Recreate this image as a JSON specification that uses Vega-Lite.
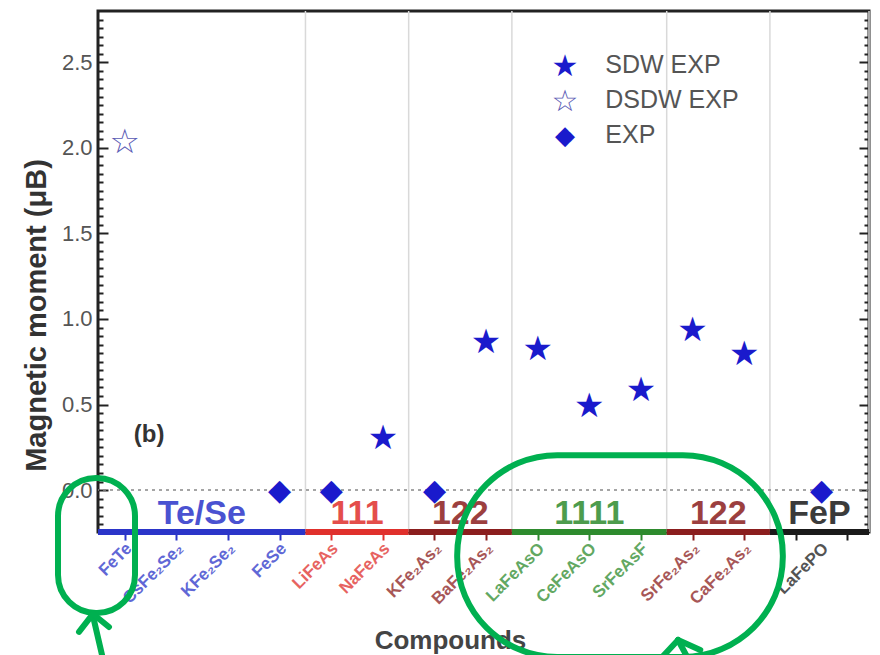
{
  "$schema": "https://vega.github.io/schema/vega-lite/v6.json",
  "width": 771,
  "height": 521,
  "autosize": {"type": "none"},
  "padding": {"left": 98, "top": 11, "right": 11, "bottom": 123},
  "background": "white",
  "config": {
    "font": "Liberation Sans",
    "view": {"stroke": "#222", "strokeWidth": 3},
    "axis": {"grid": false, "domain": false}
  },
  "datasets": {
    "compounds": [
      {"compound": "FeTe", "index": 1, "family": "Te/Se"},
      {"compound": "CsFe₂Se₂", "index": 2, "family": "Te/Se"},
      {"compound": "KFe₂Se₂", "index": 3, "family": "Te/Se"},
      {"compound": "FeSe", "index": 4, "family": "Te/Se"},
      {"compound": "LiFeAs", "index": 5, "family": "111"},
      {"compound": "NaFeAs", "index": 6, "family": "111"},
      {"compound": "KFe₂As₂", "index": 7, "family": "122"},
      {"compound": "BaFe₂As₂", "index": 8, "family": "122"},
      {"compound": "LaFeAsO", "index": 9, "family": "1111"},
      {"compound": "CeFeAsO", "index": 10, "family": "1111"},
      {"compound": "SrFeAsF", "index": 11, "family": "1111"},
      {"compound": "SrFe₂As₂", "index": 12, "family": "122"},
      {"compound": "CaFe₂As₂", "index": 13, "family": "122"},
      {"compound": "LaFePO", "index": 14.5, "family": "FeP"}
    ],
    "moments": [
      {"compound": "FeTe", "index": 1, "moment": 2.04, "series": "DSDW EXP"},
      {"compound": "FeSe", "index": 4, "moment": 0, "series": "EXP"},
      {"compound": "LiFeAs", "index": 5, "moment": 0, "series": "EXP"},
      {"compound": "NaFeAs", "index": 6, "moment": 0.31, "series": "SDW EXP"},
      {"compound": "KFe₂As₂", "index": 7, "moment": 0, "series": "EXP"},
      {"compound": "BaFe₂As₂", "index": 8, "moment": 0.87, "series": "SDW EXP"},
      {"compound": "LaFeAsO", "index": 9, "moment": 0.83, "series": "SDW EXP"},
      {"compound": "CeFeAsO", "index": 10, "moment": 0.5, "series": "SDW EXP"},
      {"compound": "SrFeAsF", "index": 11, "moment": 0.59, "series": "SDW EXP"},
      {"compound": "SrFe₂As₂", "index": 12, "moment": 0.94, "series": "SDW EXP"},
      {"compound": "CaFe₂As₂", "index": 13, "moment": 0.8, "series": "SDW EXP"},
      {"compound": "LaFePO", "index": 14.5, "moment": 0, "series": "EXP"}
    ],
    "groups": [
      {"label": "Te/Se", "family": "Te/Se", "start": 0.48, "end": 4.5, "mid": 2.49},
      {"label": "111", "family": "111", "start": 4.5, "end": 6.5, "mid": 5.5},
      {"label": "122", "family": "122", "start": 6.5, "end": 8.5, "mid": 7.5},
      {"label": "1111", "family": "1111", "start": 8.5, "end": 11.5, "mid": 10},
      {"label": "122", "family": "122", "start": 11.5, "end": 13.5, "mid": 12.5},
      {"label": "FeP", "family": "FeP", "start": 13.5, "end": 15.42, "mid": 14.46}
    ]
  },
  "resolve": {"axis": {"x": "independent", "y": "independent"}},
  "layer": [
    {
      "data": {"name": "groups"},
      "mark": {"type": "rule", "color": "#d9d9d9", "strokeWidth": 1.5},
      "encoding": {
        "x": {
          "field": "end", "type": "quantitative",
          "scale": {"domain": [0.48, 15.42], "nice": false, "zero": false},
          "axis": {
            "orient": "bottom",
            "values": [1, 2, 3, 4, 5, 6, 7, 8, 9, 10, 11, 12, 13, 14, 15],
            "labels": false, "ticks": true, "tickSize": 8, "tickWidth": 2,
            "tickColor": {"condition": [
              {"test": "datum.value < 4.5", "value": "#2b35c9"},
              {"test": "datum.value < 6.5", "value": "#e0302c"},
              {"test": "datum.value < 8.5", "value": "#8b1e1e"},
              {"test": "datum.value < 11.5", "value": "#2e8b2e"},
              {"test": "datum.value < 13.5", "value": "#8b1e1e"}
            ], "value": "#1a1a1a"},
            "title": "Compounds", "titleFontSize": 26, "titleFontWeight": "bold",
            "titleColor": "#444", "titleX": 352, "titleY": 108, "titleBaseline": "middle"
          }
        }
      }
    },
    {
      "data": {"values": [{}]},
      "mark": {"type": "rule", "color": "#888", "strokeDash": [3, 4], "strokeWidth": 1.5},
      "encoding": {
        "y": {
          "datum": 0, "type": "quantitative",
          "scale": {"domain": [-0.245, 2.8], "nice": false, "zero": false},
          "axis": {
            "orient": "left", "values": [0, 0.5, 1, 1.5, 2, 2.5], "format": ".1f",
            "ticks": false, "labels": true, "labelFontSize": 22, "labelColor": "#555", "labelPadding": 6,
            "title": "Magnetic moment (μB)", "titleFontSize": 29, "titleFontWeight": "bold", "titleColor": "#333",
            "titleX": -62, "titleY": 304, "titleBaseline": "middle"
          }
        }
      }
    },
    {
      "data": {"name": "groups"},
      "mark": {"type": "rule", "strokeWidth": 6},
      "encoding": {
        "x": {"field": "start", "type": "quantitative", "axis": null},
        "x2": {"field": "end"},
        "y": {
          "datum": -0.245, "type": "quantitative",
          "axis": {
            "orient": "right", "values": [0, 0.5, 1, 1.5, 2, 2.5], "offset": -10,
            "labels": false, "ticks": true, "tickSize": 10, "tickWidth": 2, "tickColor": "#222", "title": null
          }
        },
        "color": {
          "field": "family", "type": "nominal",
          "scale": {"domain": ["Te/Se", "111", "122", "1111", "FeP"], "range": ["#2b35c9", "#e0302c", "#8b1e1e", "#2e8b2e", "#1a1a1a"]},
          "legend": null
        }
      }
    },
    {
      "data": {"name": "groups"},
      "mark": {"type": "text", "fontSize": 34, "fontWeight": "bold", "baseline": "alphabetic", "dy": -8, "opacity": 0.85},
      "encoding": {
        "x": {"field": "mid", "type": "quantitative", "axis": null},
        "y": {
          "datum": -0.245, "type": "quantitative",
          "axis": {
            "orient": "right", "offset": -5,
            "values": [-0.2, -0.15, -0.1, -0.05, 0.05, 0.1, 0.15, 0.2, 0.25, 0.3, 0.35, 0.4, 0.45, 0.55, 0.6, 0.65, 0.7, 0.75, 0.8, 0.85, 0.9, 0.95, 1.05, 1.1, 1.15, 1.2, 1.25, 1.3, 1.35, 1.4, 1.45, 1.55, 1.6, 1.65, 1.7, 1.75, 1.8, 1.85, 1.9, 1.95, 2.05, 2.1, 2.15, 2.2, 2.25, 2.3, 2.35, 2.4, 2.45, 2.55, 2.6, 2.65, 2.7, 2.75],
            "labels": false, "ticks": true, "tickSize": 5, "tickWidth": 2, "tickColor": "#222", "title": null
          }
        },
        "text": {"field": "label"},
        "color": {"field": "family", "type": "nominal", "legend": null}
      }
    },
    {
      "data": {"name": "compounds"},
      "mark": {"type": "text", "angle": -45, "align": "right", "baseline": "middle", "fontSize": 17, "fontWeight": "bold", "dx": -7, "dy": 13, "opacity": 0.75},
      "encoding": {
        "x": {"field": "index", "type": "quantitative", "axis": null},
        "y": {
          "datum": -0.245, "type": "quantitative",
          "axis": {
            "orient": "left", "values": [0, 0.5, 1, 1.5, 2, 2.5], "offset": -10,
            "labels": false, "ticks": true, "tickSize": 10, "tickWidth": 2, "tickColor": "#222", "title": null
          }
        },
        "text": {"field": "compound"},
        "color": {"field": "family", "type": "nominal", "legend": null}
      }
    },
    {
      "data": {"values": [{}]},
      "mark": {"type": "text", "text": "(b)", "fontSize": 24, "fontWeight": "bold", "color": "#333"},
      "encoding": {
        "x": {"datum": 1.47, "type": "quantitative", "axis": null},
        "y": {
          "datum": 0.32, "type": "quantitative",
          "axis": {
            "orient": "left", "offset": -5,
            "values": [-0.2, -0.15, -0.1, -0.05, 0.05, 0.1, 0.15, 0.2, 0.25, 0.3, 0.35, 0.4, 0.45, 0.55, 0.6, 0.65, 0.7, 0.75, 0.8, 0.85, 0.9, 0.95, 1.05, 1.1, 1.15, 1.2, 1.25, 1.3, 1.35, 1.4, 1.45, 1.55, 1.6, 1.65, 1.7, 1.75, 1.8, 1.85, 1.9, 1.95, 2.05, 2.1, 2.15, 2.2, 2.25, 2.3, 2.35, 2.4, 2.45, 2.55, 2.6, 2.65, 2.7, 2.75],
            "labels": false, "ticks": true, "tickSize": 5, "tickWidth": 2, "tickColor": "#222", "title": null
          }
        }
      }
    },
    {
      "data": {"name": "moments"},
      "transform": [{"filter": "datum.series == 'SDW EXP'"}],
      "mark": {"type": "text", "text": "★", "font": "DejaVu Sans", "fontSize": 34, "baseline": "middle", "dy": 2, "color": "#1a1acc"},
      "encoding": {
        "x": {"field": "index", "type": "quantitative", "axis": null},
        "y": {"field": "moment", "type": "quantitative", "axis": null}
      }
    },
    {
      "data": {"name": "moments"},
      "transform": [{"filter": "datum.series == 'DSDW EXP'"}],
      "mark": {"type": "text", "text": "☆", "font": "DejaVu Sans", "fontSize": 34, "baseline": "middle", "dy": 2, "color": "#5a5ab4"},
      "encoding": {
        "x": {"field": "index", "type": "quantitative", "axis": null},
        "y": {"field": "moment", "type": "quantitative", "axis": null}
      }
    },
    {
      "data": {"name": "moments"},
      "transform": [{"filter": "datum.series == 'EXP'"}],
      "mark": {"type": "text", "text": "◆", "font": "DejaVu Sans", "fontSize": 30, "baseline": "middle", "dy": 1, "color": "#1a1acc"},
      "encoding": {
        "x": {"field": "index", "type": "quantitative", "axis": null},
        "y": {"field": "moment", "type": "quantitative", "axis": null}
      }
    },
    {
      "data": {"values": [{}]},
      "mark": {"type": "text", "text": "★", "font": "DejaVu Sans", "fontSize": 30, "baseline": "middle", "dy": 2, "color": "#1a1acc"},
      "encoding": {
        "x": {"datum": 9.53, "type": "quantitative", "axis": null},
        "y": {"datum": 2.482, "type": "quantitative", "axis": null}
      }
    },
    {
      "data": {"values": [{}]},
      "mark": {"type": "text", "text": "☆", "font": "DejaVu Sans", "fontSize": 30, "baseline": "middle", "dy": 2, "color": "#5a5ab4"},
      "encoding": {
        "x": {"datum": 9.53, "type": "quantitative", "axis": null},
        "y": {"datum": 2.278, "type": "quantitative", "axis": null}
      }
    },
    {
      "data": {"values": [{}]},
      "mark": {"type": "text", "text": "◆", "font": "DejaVu Sans", "fontSize": 26, "baseline": "middle", "dy": 1, "color": "#1a1acc"},
      "encoding": {
        "x": {"datum": 9.53, "type": "quantitative", "axis": null},
        "y": {"datum": 2.074, "type": "quantitative", "axis": null}
      }
    },
    {
      "data": {"values": [{}]},
      "mark": {"type": "text", "text": "SDW EXP", "fontSize": 25, "align": "left", "baseline": "middle", "color": "#555"},
      "encoding": {
        "x": {"datum": 10.31, "type": "quantitative", "axis": null},
        "y": {"datum": 2.482, "type": "quantitative", "axis": null}
      }
    },
    {
      "data": {"values": [{}]},
      "mark": {"type": "text", "text": "DSDW EXP", "fontSize": 25, "align": "left", "baseline": "middle", "color": "#555"},
      "encoding": {
        "x": {"datum": 10.31, "type": "quantitative", "axis": null},
        "y": {"datum": 2.278, "type": "quantitative", "axis": null}
      }
    },
    {
      "data": {"values": [{}]},
      "mark": {"type": "text", "text": "EXP", "fontSize": 25, "align": "left", "baseline": "middle", "color": "#555"},
      "encoding": {
        "x": {"datum": 10.31, "type": "quantitative", "axis": null},
        "y": {"datum": 2.074, "type": "quantitative", "axis": null}
      }
    },
    {
      "data": {"values": [{}]},
      "mark": {"type": "rect", "fill": "transparent", "stroke": "#00b050", "strokeWidth": 6, "cornerRadius": 100},
      "encoding": {
        "x": {"datum": 7.44, "type": "quantitative", "axis": null},
        "x2": {"datum": 13.75},
        "y": {"datum": 0.204, "type": "quantitative", "axis": null},
        "y2": {"datum": -0.975}
      }
    },
    {
      "data": {"values": [{}]},
      "mark": {"type": "rect", "fill": "transparent", "stroke": "#00b050", "strokeWidth": 6, "cornerRadius": 38},
      "encoding": {
        "x": {"datum": -0.295, "type": "quantitative", "axis": null},
        "x2": {"datum": 1.197},
        "y": {"datum": 0.07, "type": "quantitative", "axis": null},
        "y2": {"datum": -0.718}
      }
    },
    {
      "data": {"values": [{}]},
      "mark": {"type": "rule", "color": "#00b050", "strokeWidth": 6, "strokeCap": "round"},
      "encoding": {
        "x": {"datum": 0.558, "type": "quantitative", "axis": null},
        "y": {"datum": -0.964, "type": "quantitative", "axis": null},
        "x2": {"datum": 0.383},
        "y2": {"datum": -0.736}
      }
    },
    {
      "data": {"values": [{}]},
      "mark": {"type": "rule", "color": "#00b050", "strokeWidth": 6, "strokeCap": "round"},
      "encoding": {
        "x": {"datum": 0.383, "type": "quantitative", "axis": null},
        "y": {"datum": -0.724, "type": "quantitative", "axis": null},
        "x2": {"datum": 0.112},
        "y2": {"datum": -0.829}
      }
    },
    {
      "data": {"values": [{}]},
      "mark": {"type": "rule", "color": "#00b050", "strokeWidth": 6, "strokeCap": "round"},
      "encoding": {
        "x": {"datum": 0.383, "type": "quantitative", "axis": null},
        "y": {"datum": -0.724, "type": "quantitative", "axis": null},
        "x2": {"datum": 0.693},
        "y2": {"datum": -0.8}
      }
    },
    {
      "data": {"values": [{}]},
      "mark": {"type": "rule", "color": "#00b050", "strokeWidth": 6, "strokeCap": "round"},
      "encoding": {
        "x": {"datum": 11.72, "type": "quantitative", "axis": null},
        "y": {"datum": -0.876, "type": "quantitative", "axis": null},
        "x2": {"datum": 11.95},
        "y2": {"datum": -1.005}
      }
    },
    {
      "data": {"values": [{}]},
      "mark": {"type": "rule", "color": "#00b050", "strokeWidth": 6, "strokeCap": "round"},
      "encoding": {
        "x": {"datum": 11.72, "type": "quantitative", "axis": null},
        "y": {"datum": -0.876, "type": "quantitative", "axis": null},
        "x2": {"datum": 11.43},
        "y2": {"datum": -0.97}
      }
    },
    {
      "data": {"values": [{}]},
      "mark": {"type": "rule", "color": "#00b050", "strokeWidth": 6, "strokeCap": "round"},
      "encoding": {
        "x": {"datum": 11.72, "type": "quantitative", "axis": null},
        "y": {"datum": -0.876, "type": "quantitative", "axis": null},
        "x2": {"datum": 12.15},
        "y2": {"datum": -0.935}
      }
    }
  ]
}
